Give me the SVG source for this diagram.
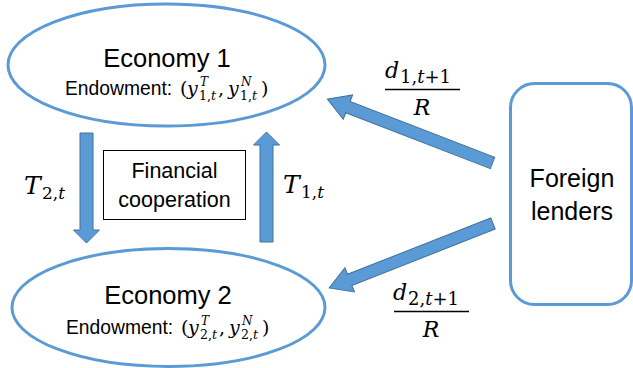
<svg xmlns="http://www.w3.org/2000/svg" width="633" height="368" viewBox="0 0 633 368">
<style>
.node{fill:#fff;stroke:#5B9BD5;stroke-width:3}
.arr{fill:#5B9BD5;stroke:#41719C;stroke-width:1}
.sans{font-family:"Liberation Sans",Arial,sans-serif;fill:#000}
.m{font-family:"DejaVu Serif","Liberation Serif",serif;fill:#000}
.i{font-style:italic}
</style>
<rect width="633" height="368" fill="#fff"/>
<g id="connectors">
<polygon class="arr" points="80,133 93,133 93,230 99.5,230 86.5,243 73.5,230 80,230"/>
<polygon class="arr" points="260,242 273,242 273,145 279.5,145 266.5,132 253.5,145 260,145"/>
<polygon class="arr" transform="translate(492.5,163) rotate(201.14)" points="0,-6 155,-6 155,-13 177,0 155,13 155,6 0,6"/>
<polygon class="arr" transform="translate(493,223.5) rotate(158.53)" points="0,-6 154,-6 154,-13 176,0 154,13 154,6 0,6"/>
</g>
<g id="economy1">
<ellipse class="node" cx="166.5" cy="65" rx="158.5" ry="61"/>
<text class="sans" x="167" y="67" font-size="25.5" text-anchor="middle">Economy 1</text>
<text class="sans" x="65" y="95" font-size="19.3">Endowment:</text>
<text class="m" x="180" y="95" font-size="19">(</text>
<text class="m i" x="187" y="95" font-size="19">y</text>
<text class="m i" x="200" y="86" font-size="12">T</text>
<text class="m" x="199" y="100" font-size="12.5">1,<tspan class="i">t</tspan></text>
<text class="m" x="218" y="95" font-size="19">,</text>
<text class="m i" x="228" y="95" font-size="19">y</text>
<text class="m i" x="241" y="86" font-size="12">N</text>
<text class="m" x="240" y="100" font-size="12.5">1,<tspan class="i">t</tspan></text>
<text class="m" x="261" y="95" font-size="19">)</text>
</g>
<g id="economy2">
<ellipse class="node" cx="168.5" cy="307.5" rx="156.5" ry="59"/>
<text class="sans" x="168" y="304" font-size="25.5" text-anchor="middle">Economy 2</text>
<text class="sans" x="66" y="334" font-size="19.3">Endowment:</text>
<text class="m" x="181" y="334" font-size="19">(</text>
<text class="m i" x="188" y="334" font-size="19">y</text>
<text class="m i" x="201" y="325" font-size="12">T</text>
<text class="m" x="200" y="339" font-size="12.5">2,<tspan class="i">t</tspan></text>
<text class="m" x="219" y="334" font-size="19">,</text>
<text class="m i" x="229" y="334" font-size="19">y</text>
<text class="m i" x="242" y="325" font-size="12">N</text>
<text class="m" x="241" y="339" font-size="12.5">2,<tspan class="i">t</tspan></text>
<text class="m" x="262" y="334" font-size="19">)</text>
</g>
<g id="foreign-lenders">
<rect class="node" x="510.5" y="83.5" width="121" height="221" rx="24"/>
<text class="sans" x="572" y="187" font-size="25" text-anchor="middle">Foreign</text>
<text class="sans" x="572" y="220" font-size="25" text-anchor="middle">lenders</text>
</g>
<g id="financial-cooperation">
<rect x="103.5" y="150.5" width="142" height="69" fill="#fff" stroke="#000" stroke-width="1"/>
<text class="sans" x="174.5" y="178" font-size="21.5" text-anchor="middle">Financial</text>
<text class="sans" x="174.5" y="207" font-size="21.5" text-anchor="middle">cooperation</text>
</g>
<g id="labels">
<text class="m i" x="24" y="194" font-size="25">T</text>
<text class="m" x="42" y="199" font-size="17">2,<tspan class="i">t</tspan></text>
<text class="m i" x="283" y="193" font-size="25">T</text>
<text class="m" x="301" y="198" font-size="17">1,<tspan class="i">t</tspan></text>
<text class="m i" x="385" y="78" font-size="22">d</text>
<text class="m" x="400" y="83" font-size="18">1,<tspan class="i">t</tspan>+1</text>
<line x1="385" y1="89.5" x2="460" y2="89.5" stroke="#000" stroke-width="1.5"/>
<text class="m i" x="422" y="115" font-size="22" text-anchor="middle">R</text>
<text class="m i" x="393" y="300" font-size="22">d</text>
<text class="m" x="408" y="305" font-size="18">2,<tspan class="i">t</tspan>+1</text>
<line x1="394" y1="311.5" x2="469" y2="311.5" stroke="#000" stroke-width="1.5"/>
<text class="m i" x="431" y="337" font-size="22" text-anchor="middle">R</text>
</g>
</svg>
